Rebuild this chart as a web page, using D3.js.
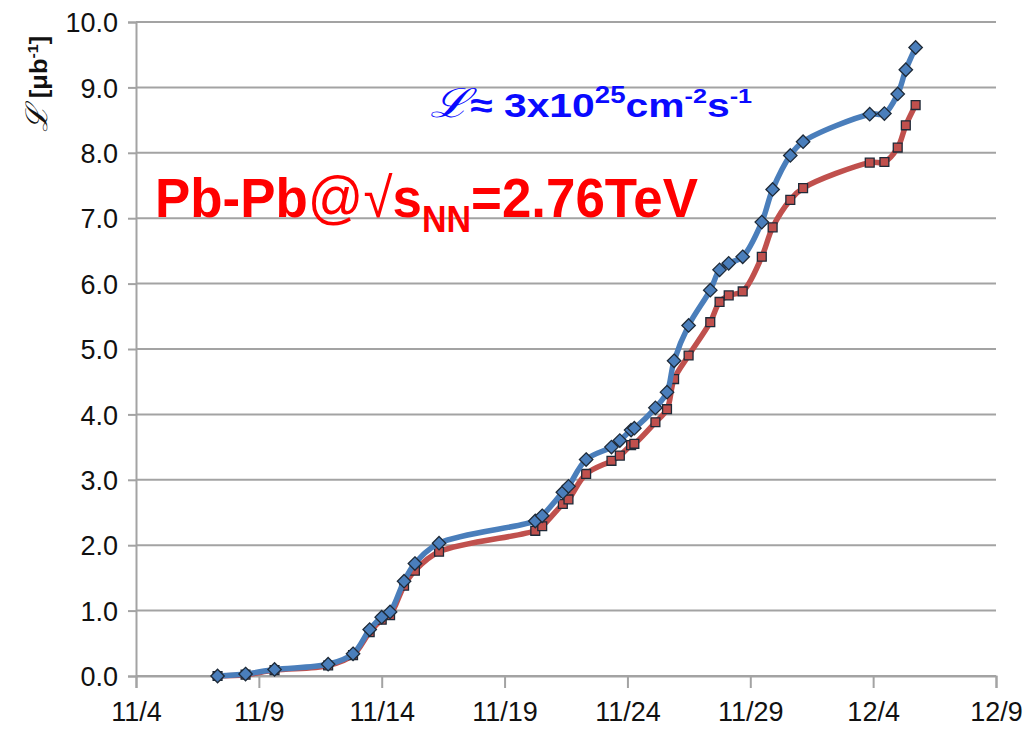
<!DOCTYPE html>
<html>
<head>
<meta charset="utf-8">
<script src="https://cdn.jsdelivr.net/npm/d3@7"></script>
<style>
  html, body { margin: 0; padding: 0; background: #ffffff; }
  svg { display: block; }
  text { font-family: "Liberation Sans", Arial, sans-serif; }
</style>
</head>
<body>
<svg id="chart" width="1024" height="737"></svg>
<script>
// Integrated luminosity, Pb-Pb run, per fill (UTC timestamps)
const fillTimes = [
  "2010-11-07 07:40", "2010-11-08 11:00", "2010-11-09 15:20", "2010-11-11 19:40",
  "2010-11-12 20:00", "2010-11-13 12:15", "2010-11-14 00:00", "2010-11-14 08:10",
  "2010-11-14 21:50", "2010-11-15 08:25", "2010-11-16 08:00", "2010-11-20 06:00",
  "2010-11-20 12:45", "2010-11-21 08:55", "2010-11-21 14:25", "2010-11-22 07:40",
  "2010-11-23 08:25", "2010-11-23 16:35", "2010-11-24 03:35", "2010-11-24 06:45",
  "2010-11-25 03:20", "2010-11-25 14:40", "2010-11-25 21:35", "2010-11-26 11:45",
  "2010-11-27 08:55", "2010-11-27 18:00", "2010-11-28 02:55", "2010-11-28 16:35",
  "2010-11-29 11:15", "2010-11-29 21:50", "2010-11-30 15:05", "2010-12-01 03:35",
  "2010-12-03 20:40", "2010-12-04 11:00", "2010-12-05 00:00", "2010-12-05 07:55",
  "2010-12-05 17:30"
];
// delivered (blue, diamonds)
const deliveredLumi = [
  0.00, 0.03, 0.10, 0.18, 0.34, 0.71, 0.90, 0.98, 1.45, 1.72, 2.03, 2.37,
  2.45, 2.81, 2.90, 3.31, 3.50, 3.60, 3.76, 3.79, 4.10, 4.34, 4.82, 5.36,
  5.90, 6.21, 6.31, 6.41, 6.94, 7.44, 7.96, 8.17, 8.59, 8.60, 8.90, 9.27, 9.61
];
// recorded (red, squares)
const recordedLumi = [
  0.00, 0.02, 0.09, 0.16, 0.32, 0.67, 0.86, 0.93, 1.38, 1.61, 1.90, 2.22,
  2.29, 2.63, 2.70, 3.09, 3.29, 3.37, 3.53, 3.55, 3.88, 4.08, 4.54, 4.90,
  5.41, 5.72, 5.82, 5.88, 6.41, 6.86, 7.28, 7.46, 7.85, 7.86, 8.08, 8.42, 8.73
];
const xTickLabels = ["11/4", "11/9", "11/14", "11/19", "11/24", "11/29", "12/4", "12/9"];
const yTickValues = [0, 1, 2, 3, 4, 5, 6, 7, 8, 9, 10];

const parseTime = d3.utcParse("%Y-%m-%d %H:%M");
const parseTick = s => {
  const [m, d] = s.split("/").map(Number);
  return new Date(Date.UTC(2010, m - 1, d));
};
const tickDates = xTickLabels.map(parseTick);

const svg = d3.select("#chart");
const plot = { left: 136, right: 996, top: 22, bottom: 676 };

const x = d3.scaleUtc()
  .domain([tickDates[0], tickDates[tickDates.length - 1]])
  .range([plot.left, plot.right]);
const y = d3.scaleLinear().domain([0, 10]).range([plot.bottom, plot.top]);

const gridColor = "#a3a3a3";

// horizontal gridlines
svg.append("g")
  .selectAll("line")
  .data(yTickValues)
  .join("line")
  .attr("x1", plot.left).attr("x2", plot.right)
  .attr("y1", d => y(d)).attr("y2", d => y(d))
  .attr("stroke", gridColor).attr("stroke-width", 2);

// y axis
const yAxis = svg.append("g")
  .attr("transform", `translate(${plot.left},0)`)
  .call(d3.axisLeft(y).tickValues(yTickValues).tickFormat(d3.format(".1f"))
    .tickSize(8).tickPadding(10));
yAxis.select(".domain").attr("stroke", gridColor).attr("stroke-width", 2);
yAxis.selectAll(".tick line").attr("stroke", gridColor).attr("stroke-width", 2);
yAxis.selectAll(".tick text")
  .attr("font-size", 27).attr("fill", "#111")
  .attr("font-family", "'Liberation Sans', Arial, sans-serif")
  .attr("dy", "0.36em");

// x axis
const xAxis = svg.append("g")
  .attr("transform", `translate(0,${plot.bottom})`)
  .call(d3.axisBottom(x).tickValues(tickDates)
    .tickFormat((d, i) => xTickLabels[i]).tickSize(12).tickPadding(14));
xAxis.select(".domain").attr("stroke", gridColor).attr("stroke-width", 2);
xAxis.selectAll(".tick line").attr("stroke", gridColor).attr("stroke-width", 2);
xAxis.selectAll(".tick text")
  .attr("font-size", 27).attr("fill", "#111")
  .attr("font-family", "'Liberation Sans', Arial, sans-serif");

// series
const series = [
  { values: recordedLumi, color: "#c0504d", marker: "square" },
  { values: deliveredLumi, color: "#4a7ebb", marker: "diamond" }
];
const line = d3.line()
  .x(d => x(d.t)).y(d => y(d.v))
  .curve(d3.curveCatmullRom.alpha(0.5));

const diamond = d3.symbol().type(d3.symbolDiamond2).size(115);
const square = d3.symbol().type(d3.symbolSquare2).size(100);

series.forEach(s => {
  const pts = fillTimes.map((t, i) => ({ t: parseTime(t), v: s.values[i] }));
  const g = svg.append("g");
  g.append("path")
    .datum(pts)
    .attr("d", line)
    .attr("fill", "none")
    .attr("stroke", s.color)
    .attr("stroke-width", 5.5)
    .attr("stroke-linejoin", "round")
    .attr("stroke-linecap", "round");
  g.selectAll("path.mk")
    .data(pts)
    .join("path")
    .attr("class", "mk")
    .attr("transform", d => `translate(${x(d.t)},${y(d.v)})`)
    .attr("d", s.marker === "diamond" ? diamond() : square())
    .attr("fill", s.color)
    .attr("stroke", "#1e2a38")
    .attr("stroke-width", 1.3);
});

// stretch a text element horizontally so it spans a given width from x0
function fitWidth(sel, x0, width) {
  const w = sel.node().getBBox().width;
  const k = width / w;
  sel.attr("transform", `translate(${x0},0) scale(${k},1) translate(${-x0},0)`);
}

// y-axis title
const yTitle = svg.append("text")
  .attr("transform", "translate(47,132) rotate(-90)")
  .attr("font-size", 24).attr("font-weight", "bold").attr("fill", "#111");
yTitle.append("tspan").attr("font-style", "italic")
  .attr("font-family", "'DejaVu Serif', serif").attr("font-weight", "normal")
  .attr("font-size", 30).text("ℒ");
yTitle.append("tspan").text(" [μb");
yTitle.append("tspan").attr("font-size", 15).attr("dy", -9).text("-1");
yTitle.append("tspan").attr("dy", 9).text("]");
{
  const w = yTitle.node().getBBox().width;
  const k = 96 / w;
  yTitle.attr("transform", `translate(47,132) rotate(-90) scale(${k},1)`);
}

// collision energy label
const energy = svg.append("text")
  .attr("x", 155).attr("y", 217)
  .attr("fill", "#ff0000").attr("font-size", 56).attr("font-weight", "bold");
energy.append("tspan").text("Pb-Pb");
energy.append("tspan").attr("font-weight", "normal").attr("font-size", 58).text("@");
energy.append("tspan").attr("font-weight", "normal").text("√");
energy.append("tspan").text("s");
energy.append("tspan").attr("font-size", 36).attr("dy", 15).text("NN");
energy.append("tspan").attr("dy", -15).text("=2.76TeV");
fitWidth(energy, 155, 543);

// peak luminosity label
const peak = svg.append("text")
  .attr("x", 430).attr("y", 117)
  .attr("fill", "#0a0aff").attr("font-size", 34).attr("font-weight", "bold");
peak.append("tspan").attr("font-style", "italic").attr("font-weight", "normal")
  .attr("font-family", "'DejaVu Serif', serif").attr("font-size", 40).text("ℒ");
peak.append("tspan").text("≈ 3x10");
peak.append("tspan").attr("font-size", 23).attr("dy", -14).text("25");
peak.append("tspan").attr("dy", 14).text("cm");
peak.append("tspan").attr("font-size", 21).attr("dy", -14).text("-2");
peak.append("tspan").attr("dy", 14).text("s");
peak.append("tspan").attr("font-size", 21).attr("dy", -14).text("-1");
fitWidth(peak, 430, 322);
</script>
</body>
</html>
